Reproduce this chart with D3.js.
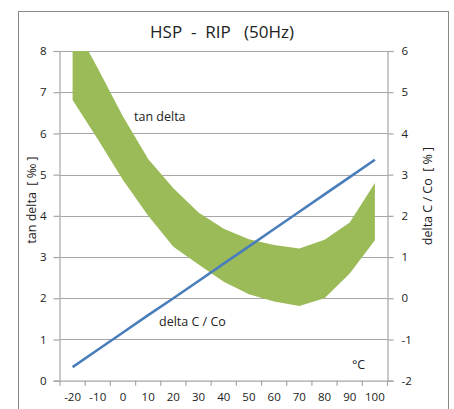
<!DOCTYPE html>
<html><head><meta charset="utf-8">
<script src="https://cdn.jsdelivr.net/npm/d3@7"></script>
<style>body{margin:0;background:#fff}svg{display:block}text{font-family:"Open Sans","Liberation Sans",sans-serif;fill:#222;white-space:pre}</style>
</head><body><svg id="c" width="454" height="409"></svg>
<script>
const categories = [-20,-10,0,10,20,30,40,50,60,70,80,90,100];
const tanDeltaLower = [6.81,5.86,4.87,4.0,3.25,2.82,2.4,2.1,1.92,1.81,2.0,2.6,3.41];
const tanDeltaUpper = [8.7,7.58,6.41,5.38,4.67,4.08,3.69,3.43,3.29,3.21,3.42,3.84,4.8];
const deltaCCo = [-1.67,-1.25,-0.83,-0.41,0.0,0.42,0.84,1.26,1.68,2.1,2.52,2.94,3.36];
const leftTicks = [0,1,2,3,4,5,6,7,8];
const rightTicks = [-2,-1,0,1,2,3,4,5,6];

const svg = d3.select("#c");
const L=60, R=387.5, T=51, B=380.7;
svg.append("rect").attr("x",18.5).attr("y",11.5).attr("width",430).attr("height",420)
  .attr("fill","none").attr("stroke","#888").attr("stroke-width",1);

const x = d3.scaleBand().domain(categories).range([L,R]).padding(0);
const yL = d3.scaleLinear().domain([0,8]).range([B,T]);
const yR = d3.scaleLinear().domain([-2,6]).range([B,T]);
const cx = d => x(d)+x.bandwidth()/2;

// gridlines
svg.append("g").selectAll("line").data(leftTicks.filter(d=>d>0)).join("line")
  .attr("x1",L).attr("x2",R).attr("y1",d=>Math.round(yL(d))+0.5).attr("y2",d=>Math.round(yL(d))+0.5)
  .attr("stroke","#a6a6a6").attr("stroke-width",1.2);

// band
svg.append("clipPath").attr("id","clip").append("rect").attr("x",L).attr("y",T).attr("width",R-L).attr("height",B-T);
const area = d3.area().x((d,i)=>cx(categories[i])).y0(d=>yL(d[0])).y1(d=>yL(d[1]));
svg.append("path").datum(tanDeltaLower.map((v,i)=>[v,tanDeltaUpper[i]]))
  .attr("d",area).attr("fill","#9BBB59").attr("clip-path","url(#clip)");

// line
const line = d3.line().x((d,i)=>cx(categories[i])).y(d=>yR(d));
svg.append("path").datum(deltaCCo).attr("d",line).attr("fill","none")
  .attr("stroke","#4A7EBB").attr("stroke-width",2.6);

// left axis
const gl = svg.append("g").attr("transform",`translate(${L-0.5},0)`)
  .call(d3.axisLeft(yL).tickValues(leftTicks).tickSize(6).tickPadding(7).tickFormat(d3.format("d")));
// right axis
const gr = svg.append("g").attr("transform",`translate(${R},0)`)
  .call(d3.axisRight(yR).tickValues(rightTicks).tickSize(6).tickPadding(8).tickFormat(d=>d<0?"-"+Math.abs(d):d));
[gl,gr].forEach(g=>{g.select(".domain").attr("stroke","#a6a6a6").attr("stroke-width",1.2);
  g.selectAll(".tick line").attr("stroke","#a6a6a6").attr("stroke-width",1.2);
  g.selectAll("text").style("font-size","11.5px").attr("fill","#222");});

// x axis
const gx = svg.append("g").attr("transform",`translate(0,${B})`)
  .call(d3.axisBottom(x).tickSize(0).tickPadding(12).tickFormat(d=>d<0?"-"+Math.abs(d):d));
gx.select(".domain").attr("stroke","#a6a6a6").attr("stroke-width",1.2);
gx.selectAll("text").style("font-size","11.5px").attr("fill","#222");
const edges = categories.map(d=>x(d)).concat([x.range()[1]]);
gx.append("g").selectAll("line").data(edges).join("line")
  .attr("x1",d=>d).attr("x2",d=>d).attr("y1",0).attr("y2",5).attr("stroke","#a6a6a6").attr("stroke-width",1.2);

// title
svg.append("text").attr("x",222).attr("y",38).attr("text-anchor","middle")
  .style("font-size","17px").text("HSP  -  RIP   (50Hz)");
// axis titles
svg.append("text").attr("transform","translate(36,200) rotate(-90)").attr("text-anchor","middle")
  .style("font-size","12.5px").text("tan delta  [ ‰ ]");
svg.append("text").attr("transform","translate(432,196) rotate(-90)").attr("text-anchor","middle")
  .style("font-size","12.5px").text("delta C / Co  [ % ]");
// annotations
svg.append("text").attr("x",134).attr("y",121).style("font-size","12.5px").text("tan delta");
svg.append("text").attr("x",159).attr("y",326).style("font-size","12.5px").text("delta C / Co");
svg.append("text").attr("x",352).attr("y",369).style("font-size","12.5px").text("°C");
</script></body></html>
